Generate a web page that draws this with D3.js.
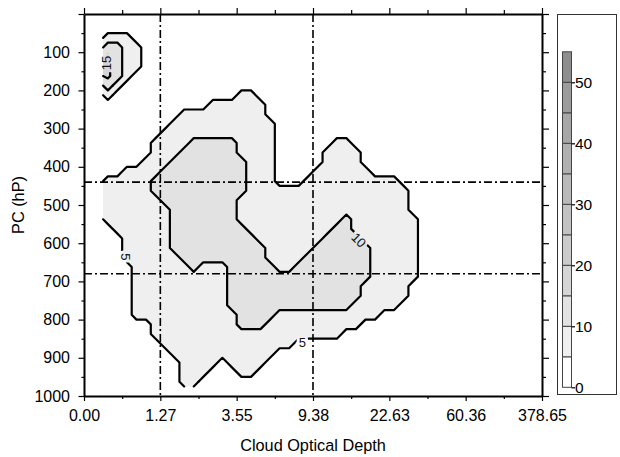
<!DOCTYPE html>
<meta charset="utf-8">
<style>
body { margin: 0; background: #fff; }
text { font-family: "Liberation Sans", Arial, sans-serif; }
.axis .domain { stroke: #000; stroke-width: 2; }
.axis line { stroke: #000; stroke-width: 1.2; }
.axis text { font-size: 16px; fill: #000; }
</style>
<body>
<script src="https://d3js.org/d3.v7.min.js"></script>
<script>

// x axis: optical depth bin boundaries (equally spaced bins)
var tauLabels = ["0.00", "1.27", "3.55", "9.38", "22.63", "60.36", "378.65"];
var pressureTicks = [0, 100, 200, 300, 400, 500, 600, 700, 800, 900, 1000];
var pressureMinor = [50, 150, 250, 350, 450, 550, 650, 750, 850, 950];

// dash-dot separators
var refTau = [1, 3];          // at 1.27 and 9.38
var refPressure = [440, 680];

// contour levels (%) and colour bar
var levels = [5, 10, 15];
var barLevels = [0, 5, 10, 15, 20, 25, 30, 35, 40, 45, 50, 55];
var barColors = ["#ffffff", "#efefef", "#e2e2e2", "#d5d5d5", "#cbcbcb", "#c2c2c2",
                 "#b9b9b9", "#b0b0b0", "#a7a7a7", "#9c9c9c", "#8e8e8e"];
var barTicks = [0, 10, 20, 30, 40, 50];

// frequency grid: cells 0.125 tau-bin wide from 0.25,
// 25 hPa tall from 0 hPa; each digit is a frequency class (spaces only for reading)
var gridTau0 = 0.25, gridTauStep = 0.125, gridPStep = 25;
var classValue = [2.5, 7.5, 12.5, 15.8];
var gridRows = [
  "000000 000000 000000 000000 000000 000000",
  "000000 000000 000000 000000 000000 000000",
  "111000 000000 000000 000000 000000 000000",
  "221100 000000 000000 000000 000000 000000",
  "321100 000000 000000 000000 000000 000000",
  "321100 000000 000000 000000 000000 000000",
  "321000 000000 000000 000000 000000 000000",
  "210000 000000 000000 000000 000000 000000",
  "100000 000000 001100 000000 000000 000000",
  "000000 000001 111110 000000 000000 000000",
  "000000 001111 111110 000000 000000 000000",
  "000000 011111 111111 000000 000000 000000",
  "000000 111111 111111 000000 000000 000000",
  "000001 111222 221111 000000 110000 000000",
  "000001 112222 221111 000001 111000 000000",
  "000011 122222 222111 000001 111000 000000",
  "001111 222222 222111 000011 111100 000000",
  "111112 222222 222111 000111 111111 100000",
  "111112 222222 222111 111111 111111 110000",
  "111111 222222 221111 111111 111111 110000",
  "111111 122222 221111 111111 111111 110000",
  "111111 122222 221111 111111 121111 111000",
  "011111 122222 222111 111111 221111 111000",
  "001111 122222 222211 111112 222111 111000",
  "001111 122222 222221 111122 222211 111000",
  "001111 112222 222221 111222 222211 111000",
  "000111 111211 122222 112222 222211 111000",
  "000111 111111 122222 222222 222211 111000",
  "000111 111111 122222 222222 222111 110000",
  "000111 111111 122222 222222 222111 110000",
  "000111 111111 122222 222222 221111 100000",
  "000111 111111 112222 111111 111110 000000",
  "000001 111111 112221 111111 111000 000000",
  "000001 111111 111111 111111 100000 000000",
  "000000 111111 111111 110000 000000 000000",
  "000000 011111 111111 000000 000000 000000",
  "000000 001111 011110 000000 000000 000000",
  "000000 001110 001100 000000 000000 000000",
  "000000 001100 000000 000000 000000 000000"
];

var contourLabels = [
  { text: "15", tau: 0.29, p: 128, angle: -90 },
  { text: "5",  tau: 0.54, p: 636, angle: 90 },
  { text: "10", tau: 3.60, p: 592, angle: 45 },
  { text: "5",  tau: 2.86, p: 861, angle: 0 }
];

var width = 620, height = 457;
var plot = { left: 84, top: 14, right: 542, bottom: 396 };

var x = d3.scaleLinear().domain([0, 6]).range([plot.left, plot.right]);
var y = d3.scaleLinear().domain([0, 1000]).range([plot.top, plot.bottom]);
var c = d3.scaleLinear().domain([0, 55]).range([387.3, 51.8]);

var svg = d3.select("body").append("svg")
    .attr("width", width)
    .attr("height", height);

// ---- contours
var rows = gridRows.map(function(r) { return r.replace(/ /g, ""); });
var nx = rows[0].length, ny = rows.length;
var values = [];
rows.forEach(function(row) {
  row.split("").forEach(function(ch) { values.push(classValue[+ch]); });
});
var contours = d3.contours().size([nx, ny]).thresholds(levels)(values);

function gx(v) { return x(gridTau0 + v * gridTauStep); }
function gy(v) { return y(v * gridPStep); }
var geoPath = d3.geoPath(d3.geoTransform({
  point: function(a, b) { this.stream.point(gx(a), gy(b)); }
}));

svg.append("g").selectAll("path")
    .data(contours)
  .enter().append("path")
    .attr("d", geoPath)
    .attr("fill", function(d) { return barColors[barLevels.indexOf(d.value)]; })
    .attr("stroke", "none");

// contour lines, leaving out the parts that run along the grid border
function onEdge(pt) { return pt[0] === 0 || pt[0] === nx || pt[1] === 0 || pt[1] === ny; }
var runs = [];
contours.forEach(function(ct) {
  ct.coordinates.forEach(function(poly) {
    poly.forEach(function(ring) {
      var run = [];
      for (var k = 0; k < ring.length - 1; k++) {
        var a = ring[k], b = ring[k + 1];
        if (onEdge(a) && onEdge(b)) {
          if (run.length) runs.push(run);
          run = [];
        } else {
          if (!run.length) run.push(a);
          run.push(b);
        }
      }
      if (run.length) runs.push(run);
    });
  });
});

var line = d3.line().x(function(d) { return gx(d[0]); }).y(function(d) { return gy(d[1]); });

var mask = svg.append("defs").append("mask")
    .attr("id", "gaps")
    .attr("maskUnits", "userSpaceOnUse")
    .attr("x", 0).attr("y", 0).attr("width", width).attr("height", height);
mask.append("rect").attr("width", width).attr("height", height).attr("fill", "#fff");

function placeLabels(sel) {
  sel.append("text")
      .attr("transform", function(d) { return "translate(" + x(d.tau) + "," + y(d.p) + ") rotate(" + d.angle + ")"; })
      .attr("text-anchor", "middle")
      .attr("dy", "0.35em")
      .style("font-size", "13px")
      .text(function(d) { return d.text; });
}
mask.selectAll("g").data(contourLabels).enter().append("g")
    .call(placeLabels)
    .selectAll("text").attr("fill", "#000").attr("stroke", "#000").attr("stroke-width", 6);

svg.append("g")
    .attr("mask", "url(#gaps)")
  .selectAll("path")
    .data(runs)
  .enter().append("path")
    .attr("d", line)
    .attr("fill", "none")
    .attr("stroke", "#000")
    .attr("stroke-width", 2.2)
    .attr("stroke-linejoin", "round")
    .attr("stroke-linecap", "round");

svg.append("g").selectAll("g").data(contourLabels).enter().append("g")
    .call(placeLabels)
    .selectAll("text").attr("fill", "#111");

// ---- dash-dot separators
svg.append("g").selectAll("line").data(refTau).enter().append("line")
    .attr("x1", function(d) { return x(d); }).attr("x2", function(d) { return x(d); })
    .attr("y1", y(0)).attr("y2", y(1000))
    .attr("stroke", "#000").attr("stroke-width", 1.6)
    .attr("stroke-dasharray", "8,3,2,3");
svg.append("g").selectAll("line").data(refPressure).enter().append("line")
    .attr("x1", x(0)).attr("x2", x(6))
    .attr("y1", function(d) { return y(d); }).attr("y2", function(d) { return y(d); })
    .attr("stroke", "#000").attr("stroke-width", 1.6)
    .attr("stroke-dasharray", "8,3,2,3");

// ---- axes
var tauMajor = d3.range(0, 7);
var tauMinor = d3.range(0.5, 6, 1);

function drawAxis(axis, tx, ty, minor) {
  var g = svg.append("g").attr("class", "axis")
      .attr("transform", "translate(" + tx + "," + ty + ")")
      .call(axis);
  if (minor) g.select(".domain").remove();
  return g;
}

drawAxis(d3.axisLeft(y).tickValues(pressureTicks).tickSize(5.5).tickSizeOuter(0).tickPadding(8.5)
    .tickFormat(function(d) { return d === 0 ? "" : d; }), x(0), 0);
drawAxis(d3.axisLeft(y).tickValues(pressureMinor).tickSize(2.5).tickFormat(""), x(0), 0, true);
drawAxis(d3.axisRight(y).tickValues(pressureTicks).tickSize(7).tickSizeOuter(0).tickFormat(""), x(6), 0);
drawAxis(d3.axisRight(y).tickValues(pressureMinor).tickSize(4).tickFormat(""), x(6), 0, true);
drawAxis(d3.axisBottom(x).tickValues(tauMajor).tickSize(5).tickSizeOuter(0).tickPadding(8.5)
    .tickFormat(function(d) { return tauLabels[d]; }), 0, y(1000));
drawAxis(d3.axisBottom(x).tickValues(tauMinor).tickSize(3).tickFormat(""), 0, y(1000), true);
drawAxis(d3.axisTop(x).tickValues(tauMajor).tickSize(6).tickSizeOuter(0).tickFormat(""), 0, y(0));
drawAxis(d3.axisTop(x).tickValues(tauMinor).tickSize(4).tickFormat(""), 0, y(0), true);

svg.append("text")
    .attr("x", (x(0) + x(6)) / 2).attr("y", 451)
    .attr("text-anchor", "middle")
    .style("font-size", "16.3px")
    .text("Cloud Optical Depth");

svg.append("text")
    .attr("transform", "translate(24," + (y(0) + y(1000)) / 2 + ") rotate(-90)")
    .attr("text-anchor", "middle")
    .style("font-size", "16.3px")
    .text("PC (hP)");

// ---- colour bar
svg.append("rect")
    .attr("x", 557.5).attr("y", 14.5).attr("width", 59).attr("height", 380)
    .attr("fill", "none").attr("stroke", "#333").attr("stroke-width", 1);

var bar = svg.append("g");
bar.selectAll("rect").data(barColors).enter().append("rect")
    .attr("x", 562.5).attr("width", 9)
    .attr("y", function(d, i) { return c(barLevels[i + 1]); })
    .attr("height", function(d, i) { return c(barLevels[i]) - c(barLevels[i + 1]); })
    .attr("fill", function(d) { return d; })
    .attr("stroke", "#444").attr("stroke-width", 1);

var barAxis = d3.axisRight(c).tickValues(barTicks).tickSize(3.5).tickPadding(0).tickSizeOuter(0);
var bg = svg.append("g").attr("class", "axis")
    .attr("transform", "translate(571.5,0)")
    .call(barAxis);
bg.select(".domain").remove();
bg.selectAll("line").attr("stroke", "#333");
bg.selectAll("text").style("font-size", "15.5px");

</script>
